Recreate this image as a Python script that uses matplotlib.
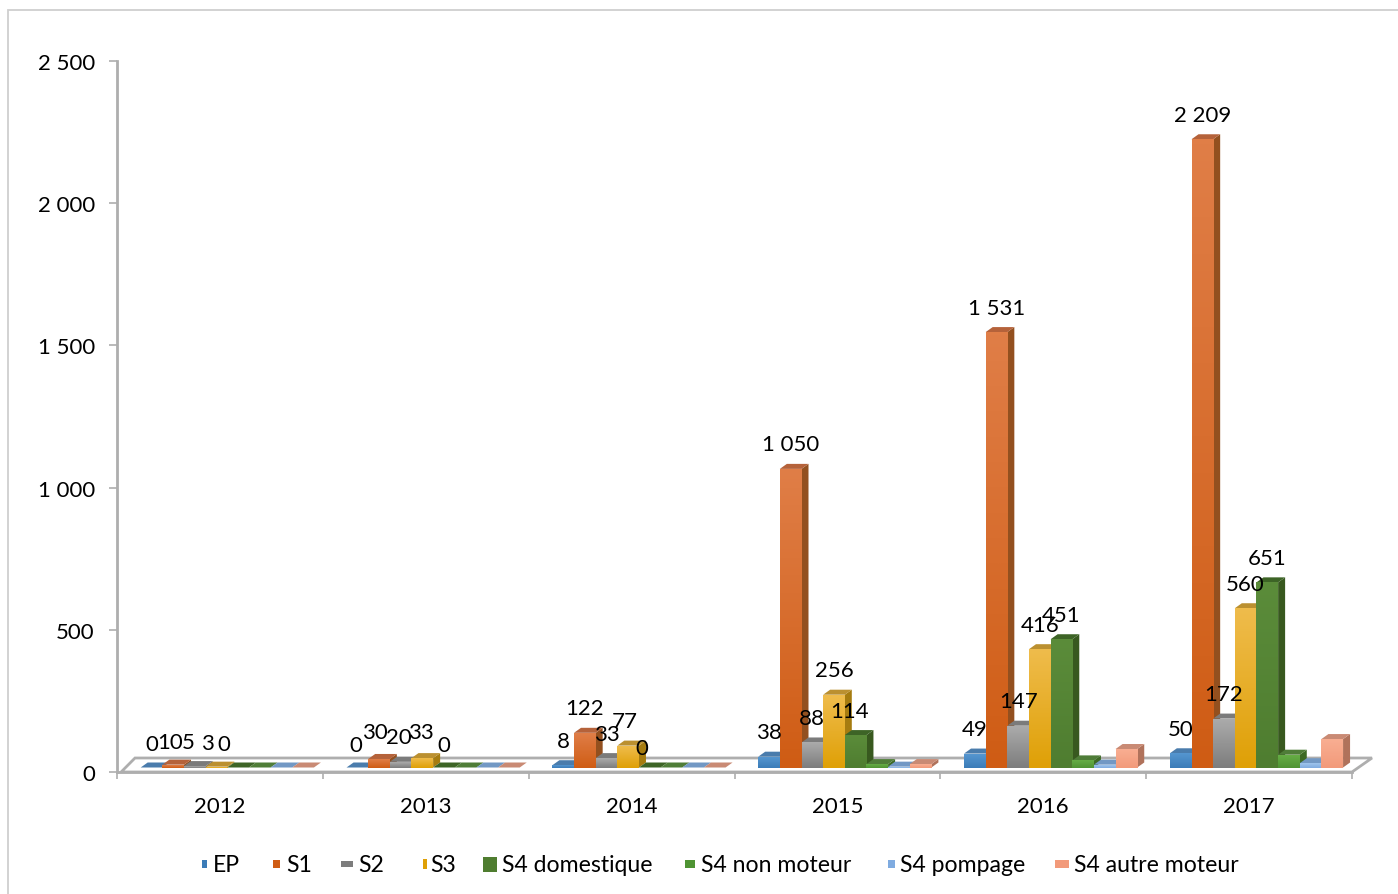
import numpy as np
import matplotlib
matplotlib.use("Agg")
import matplotlib.pyplot as plt
from matplotlib.patches import Polygon, Rectangle
from matplotlib.colors import LinearSegmentedColormap

years = ["2012", "2013", "2014", "2015", "2016", "2017"]
series = ["EP", "S1", "S2", "S3", "S4 domestique", "S4 non moteur", "S4 pompage", "S4 autre moteur"]
EP = [0, 0, 8, 38, 49, 50]
S1 = [10, 30, 122, 1050, 1531, 2209]
S2 = [5, 20, 33, 88, 147, 172]
S3 = [3, 33, 77, 256, 416, 560]
S4_dom = [0, 0, 0, 114, 451, 651]
S4_non = [0, 0, 0, 12, 25, 45]
S4_pom = [0, 0, 0, 3, 10, 15]
S4_aut = [0, 0, 0, 12, 65, 100]
values = [EP, S1, S2, S3, S4_dom, S4_non, S4_pom, S4_aut]
labelled = [True, True, True, True, True, False, False, False]
yticks = [0, 500, 1000, 1500, 2000, 2500]
yticklabels = ["0", "500", "1 000", "1 500", "2 000", "2 500"]

# (top, bottom, roof, side)
styles = [
    ("#5596d0", "#3b7cb8", "#4a7cac", "#2f5f8f"),
    ("#e07e47", "#cf5c14", "#b5623a", "#93501f"),
    ("#ababab", "#7d7d7d", "#7b7b7b", "#656565"),
    ("#efbc4c", "#dfa006", "#bb9030", "#a67c10"),
    ("#5b8c3a", "#4f7d30", "#3d6426", "#38591f"),
    ("#66ad45", "#4f9433", "#4f7d38", "#3d6a25"),
    ("#9fc4ec", "#7fabe0", "#7298c4", "#6688b0"),
    ("#f9ae92", "#f29a7a", "#c98a74", "#b0725b"),
]
legend_marks = [(204, 5, 8), (276, 7, 8), (347, 12, 6), (425, 4, 10), (490, 14, 15), (690, 10, 8), (892, 7, 8), (1062, 14, 8)]
legend_text_x = [213, 286, 358, 430, 502, 701, 900, 1074]
# pixel nudges (dx, dy, downwards positive) of crowded value labels, keyed (series, year)
label_nudge = {
    (1, 0): (-3, 2), (2, 0): (-7, 0), (3, 0): (-9, 1), (4, 0): (-14, 1), (0, 0): (0, 1),
    (1, 1): (-4, -2), (2, 1): (-2, 0), (3, 1): (-1, -2), (0, 1): (-2, 2), (4, 1): (0, 2),
    (3, 2): (-3, 0), (4, 2): (-8, 5), (4, 3): (-6, 0),
}

W, H = 1398, 895
L, R, T, B = 117, 1352, 62, 773
plt.rcParams["font.family"] = ["Lato", "DejaVu Sans"]
FS = 16
fig = plt.figure(figsize=(W / 100, H / 100), dpi=100, facecolor="white")
ax = fig.add_axes([L / W, 1 - B / H, (R - L) / W, (B - T) / H])
ax.set_xlim(0, len(years))
ax.set_ylim(0, 2500)
ax.patch.set_alpha(0)

px = len(years) / (R - L)     # data units per pixel horizontally
py = 2500 / (B - T)           # data units per pixel vertically
bar_w = 21.65 * px
start = 23.7 * px
depth_x, depth_y = 7 * px, 5 * py
base = 4.5 * py

# chart frame
fig.add_artist(Rectangle((8 / W, -0.05), 1.2, 1.05 - 11 / H, transform=fig.transFigure,
                         fill=False, edgecolor="#cfcfcf", linewidth=1.3))

# floor
gray = "#aeaeae"
floor_back = 14 * py
ax.add_patch(Polygon([(0.02, 0), (18 * px, floor_back), (len(years) + 20 * px, floor_back),
                      (len(years), 0)], closed=True, facecolor="white", edgecolor=gray,
                     linewidth=2, clip_on=False, zorder=1))

grad = np.linspace(0, 1, 128).reshape(-1, 1)
z = 2
for j, vals in enumerate(values):
    top_c, bot_c, roof, side = styles[j]
    cmap = LinearSegmentedColormap.from_list("g", [top_c, bot_c])
    for i, v in enumerate(vals):
        x0 = i + start + j * bar_w
        x1 = x0 + bar_w
        y0, y1 = base, base + v
        ax.add_patch(Polygon([(x1, y0), (x1 + depth_x, y0 + depth_y), (x1 + depth_x, y1 + depth_y), (x1, y1)],
                             closed=True, facecolor=side, edgecolor="none", zorder=z, clip_on=False))
        ax.add_patch(Polygon([(x0, y1), (x0 + depth_x, y1 + depth_y), (x1 + depth_x, y1 + depth_y), (x1, y1)],
                             closed=True, facecolor=roof, edgecolor="none", zorder=z + 0.1, clip_on=False))
        if v > 0:
            ax.imshow(grad, extent=(x0, x1, y0, y1), aspect="auto", cmap=cmap, zorder=z + 0.2,
                      interpolation="bilinear", clip_on=False)
        if labelled[j]:
            txt = f"{v:,}".replace(",", " ")
            dx, dy = label_nudge.get((j, i), (0, 0))
            ax.text((x0 + x1) / 2 + dx * px, y1 + (24.5 - dy) * py, txt, ha="center", va="center",
                    fontsize=FS, color="black", zorder=50, clip_on=False)
    z += 1
ax.set_xlim(0, len(years))
ax.set_ylim(0, 2500)

# axes
for s in ("top", "right"):
    ax.spines[s].set_visible(False)
for s in ("left", "bottom"):
    ax.spines[s].set_color(gray)
    ax.spines[s].set_linewidth(2)
    ax.spines[s].set_zorder(1.5)
ax.set_yticks(yticks)
ax.set_yticklabels(yticklabels, fontsize=FS)
ax.set_xticks(range(len(years) + 1))
ax.set_xticklabels([""] * (len(years) + 1))
ax.set_xticks(np.arange(len(years)) + 0.5, minor=True)
ax.set_xticklabels(years, minor=True, fontsize=FS)
ax.tick_params(axis="y", length=5.5, width=1.2, color=gray, pad=10.5)
ax.tick_params(axis="x", which="major", length=5, width=1.2, color=gray)
ax.tick_params(axis="x", which="minor", length=0, pad=17.5)

# legend
for name, (mx, mw, mh), tx, st in zip(series, legend_marks, legend_text_x, styles):
    yc = 864
    fig.add_artist(Rectangle(((mx - mw / 2) / W, 1 - (yc + 1 + mh / 2) / H), mw / W, mh / H,
                             transform=fig.transFigure, facecolor=st[1], edgecolor="none"))
    fig.text(tx / W, 1 - (yc + 1.5) / H, name, ha="left", va="center", fontsize=16.6, color="black")

fig.savefig("out.png", dpi=100, facecolor="white")
